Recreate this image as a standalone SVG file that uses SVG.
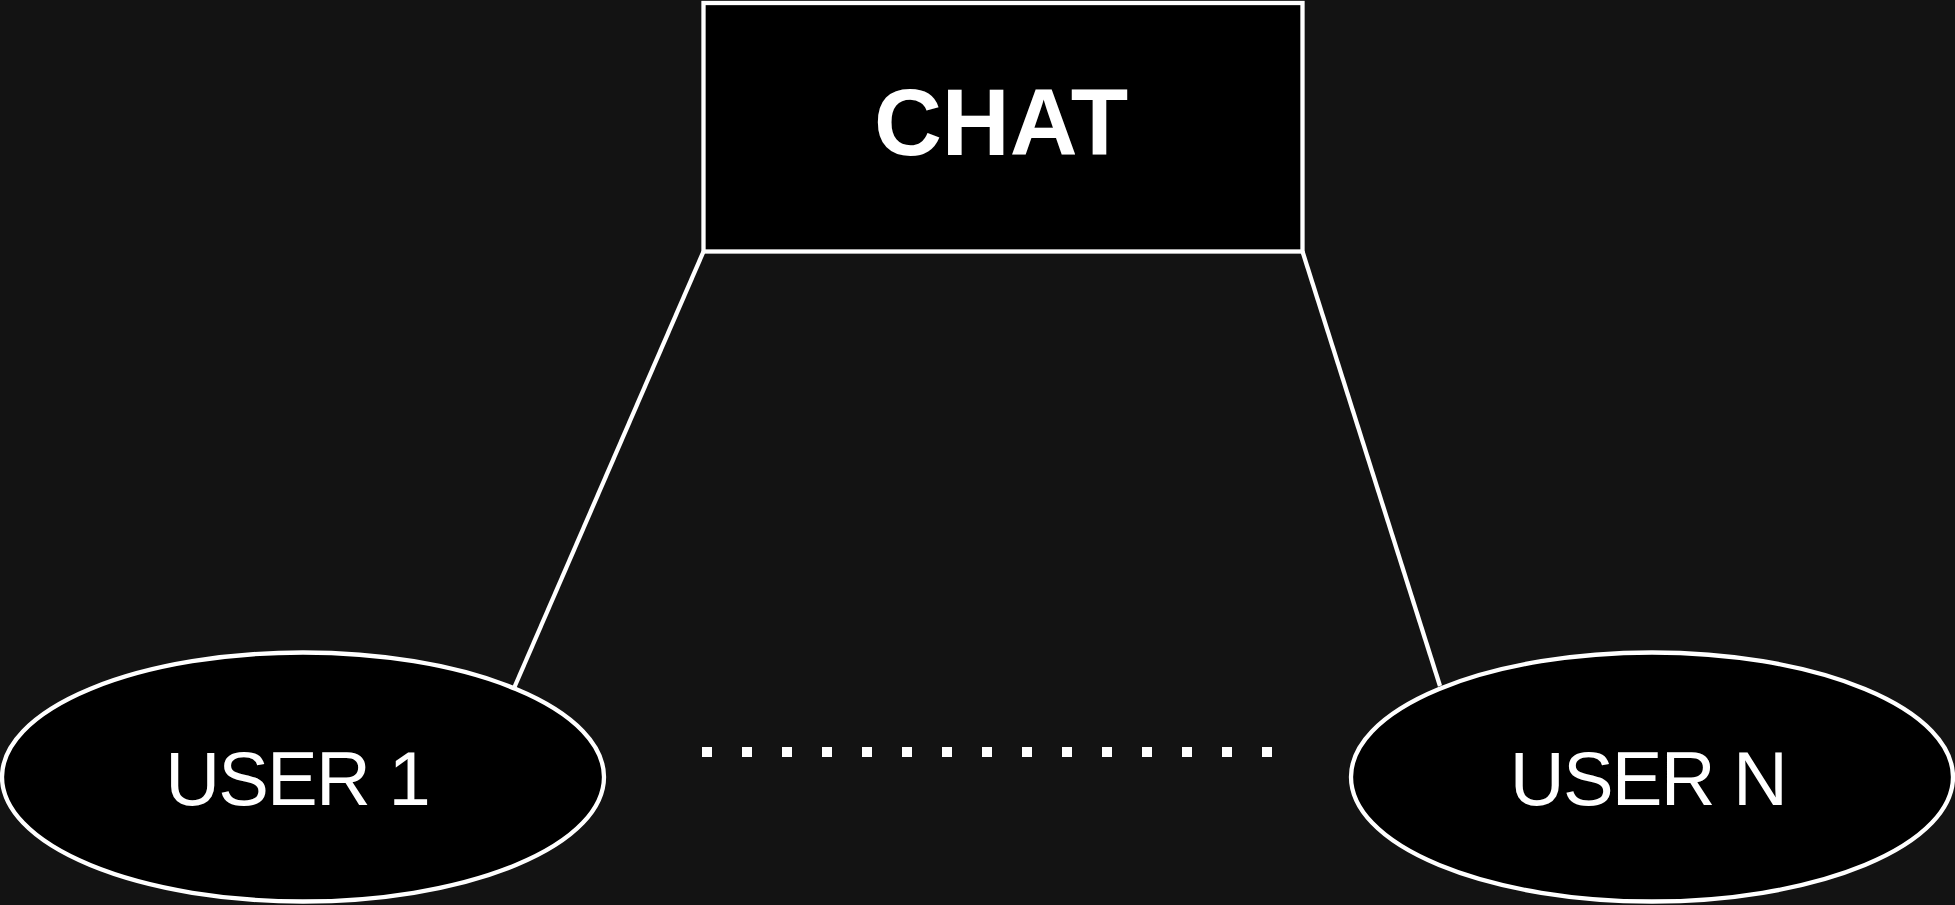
<svg xmlns="http://www.w3.org/2000/svg" width="1955" height="905" viewBox="0 0 1955 905">
  <style>
    .shape { fill: #000000; stroke: #ffffff; stroke-width: 4.3; }
    .edge { stroke: #ffffff; stroke-width: 4.3; fill: none; }
    .dots { stroke: #ffffff; stroke-width: 10; stroke-dasharray: 10 30; fill: none; }
    .title { font-family: "Liberation Sans", Arial, sans-serif; font-weight: bold; font-size: 94px; fill: #ffffff; text-anchor: middle; }
    .label { font-family: "Liberation Sans", Arial, sans-serif; font-size: 76px; letter-spacing: -1.8px; fill: #ffffff; text-anchor: middle; }
  </style>
  <rect width="1955" height="905" fill="#131313"/>
  <g id="connectors">
    <line class="edge" x1="703.5" y1="251.5" x2="514.5" y2="687"/>
    <line class="edge" x1="1302.5" y1="251.5" x2="1440" y2="686"/>
    <line class="dots" x1="702" y1="752" x2="1273" y2="752"/>
  </g>
  <g id="chat">
    <rect class="shape" x="703.5" y="3" width="599" height="248.5"/>
    <text class="title" x="1001" y="155">CHAT</text>
  </g>
  <g id="user1">
    <ellipse class="shape" cx="303" cy="777" rx="301" ry="124.5"/>
    <text class="label" x="297" y="805">USER 1</text>
  </g>
  <g id="userN">
    <ellipse class="shape" cx="1652" cy="777" rx="301" ry="124.5"/>
    <text class="label" x="1648" y="805">USER N</text>
  </g>
</svg>
